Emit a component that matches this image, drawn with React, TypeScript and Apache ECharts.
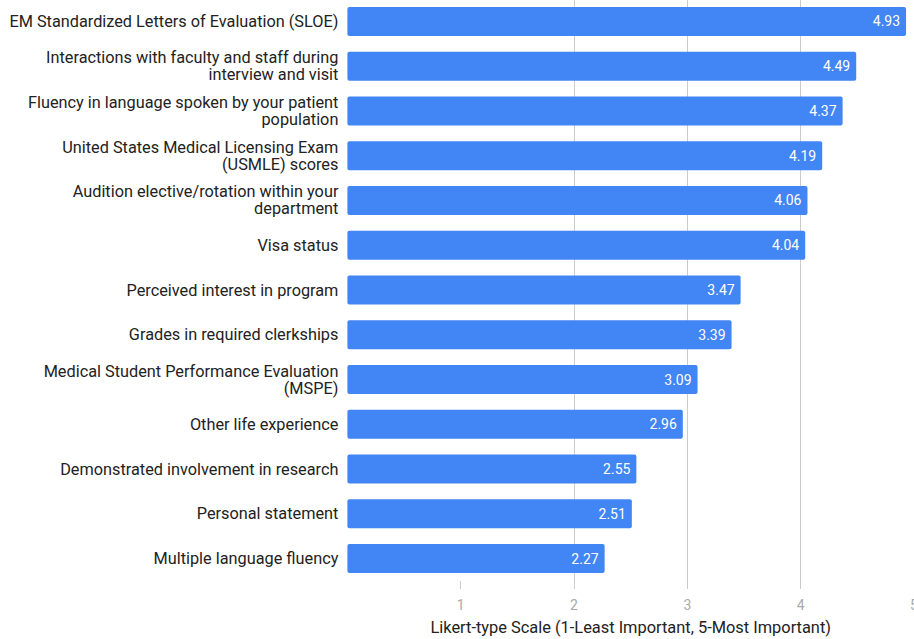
import React, { useEffect, useRef } from "react";
import * as echarts from "echarts";

const categories: string[] = [
  "EM Standardized Letters of Evaluation (SLOE)",
  "Interactions with faculty and staff during\ninterview and visit",
  "Fluency in language spoken by your patient\npopulation",
  "United States Medical Licensing Exam\n(USMLE) scores",
  "Audition elective/rotation within your\ndepartment",
  "Visa status",
  "Perceived interest in program",
  "Grades in required clerkships",
  "Medical Student Performance Evaluation\n(MSPE)",
  "Other life experience",
  "Demonstrated involvement in research",
  "Personal statement",
  "Multiple language fluency",
];

const values: number[] = [4.93, 4.49, 4.37, 4.19, 4.06, 4.04, 3.47, 3.39, 3.09, 2.96, 2.55, 2.51, 2.27];

const tickValues: number[] = [1, 2, 3, 4, 5];

const axisTitle = "Likert-type Scale (1-Least Important, 5-Most Important)";

export default function App() {
  const ref = useRef<HTMLDivElement>(null);

  useEffect(() => {
    document.body.style.margin = "0";
    const chart = echarts.init(ref.current!, null, { renderer: "svg" });
    chart.setOption({
      animation: false,
      backgroundColor: "#ffffff",
      textStyle: { fontFamily: "Roboto" },
      grid: {
        left: 347.4,
        width: 566.6,
        top: -1,
        height: 582,
        containLabel: false,
        outerBoundsMode: "none",
      },
      xAxis: {
        type: "value",
        min: 0,
        max: 5,
        interval: 1,
        name: axisTitle,
        nameLocation: "middle",
        nameGap: 38,
        nameTextStyle: { color: "#222222", fontSize: 16.4, fontFamily: "Roboto" },
        axisLine: { show: false },
        axisTick: {
          show: true,
          length: 8,
          customValues: tickValues,
          lineStyle: { color: "#cccccc", width: 1 },
        },
        axisLabel: {
          customValues: tickValues,
          color: "#aaaaaa",
          fontSize: 14,
          margin: 17,
          fontFamily: "Roboto",
        },
        splitLine: {
          show: true,
          lineStyle: {
            color: ["rgba(0,0,0,0)", "#cccccc", "#cccccc", "#cccccc", "#cccccc", "#cccccc"],
            width: 1,
          },
        },
      },
      yAxis: {
        type: "category",
        data: categories,
        inverse: true,
        axisLine: { show: false },
        axisTick: { show: false },
        splitLine: { show: false },
        axisLabel: {
          color: "#222222",
          fontSize: 16.3,
          lineHeight: 17,
          margin: 9,
          align: "right",
          fontFamily: "Roboto",
        },
      },
      series: [
        {
          type: "bar",
          data: values,
          barWidth: 29,
          itemStyle: { color: "#4285f4", borderRadius: 2 },
          label: {
            show: true,
            position: "insideRight",
            distance: 6,
            color: "#ffffff",
            fontSize: 14,
            fontFamily: "Roboto",
            formatter: (p: any) => p.value.toFixed(2),
          },
        },
      ],
    });
    return () => chart.dispose();
  }, []);

  return <div ref={ref} style={{ width: 914, height: 639 }} />;
}
